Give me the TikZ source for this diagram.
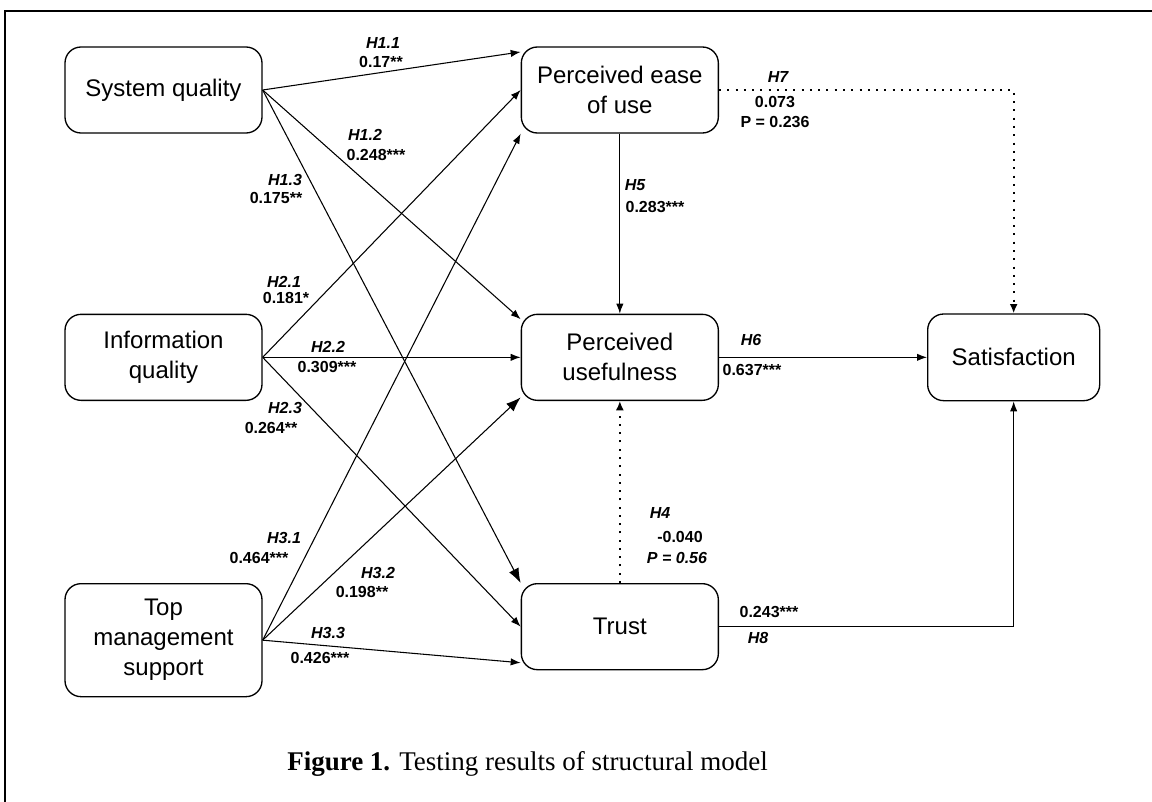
\documentclass[tikz,border=0pt]{standalone}
\usepackage{fontspec}
\setmainfont{Liberation Serif}
\setsansfont{Liberation Sans}
\usetikzlibrary{positioning, arrows.meta}

\begin{document}
\begin{tikzpicture}[x=0.75pt, y=-0.75pt, node distance = 135pt]
  \tikzstyle{construct}=[rounded corners=12pt, draw, line width=1pt, inner sep=0, align=center, minimum width=147.75pt, minimum height=64.5pt, font=\sffamily\fontsize{18}{22.5}\selectfont]
  \tikzstyle{hyp}=[inner sep=0, font=\sffamily\bfseries\itshape\fontsize{12}{14}\selectfont]
  \tikzstyle{coef}=[inner sep=0, font=\sffamily\bfseries\fontsize{12}{14}\selectfont]
  \tikzstyle{link}=[line width=0.8pt, -{Latex[length=7.5pt, width=5.5pt]}]
  \tikzstyle{biglink}=[line width=0.8pt, -{Latex[length=11pt, width=8pt]}]
  \tikzstyle{ns}=[link, line width=1.5pt, dash pattern=on 1.5pt off 4.7pt, -{Latex[length=7pt, width=6pt]}]

  \useasboundingbox (0,0) rectangle (1152,802);
  \draw [line width=1.5pt] (5,802) -- (5,11) -- (1152,11);

  \node [construct] (SQ) at (163.5,90) {System quality};
  \node [construct, below = of SQ] (IQ) {Information\\quality};
  \node [construct, below = 136.5pt of IQ, minimum height=84.75pt] (TMS) {Top\\management\\support};

  \node [construct, right = 193.5pt of SQ] (PEOU) {Perceived ease\\of use};
  \node [construct, below = of PEOU] (PU) {Perceived\\usefulness};
  \node [construct, below = 136.5pt of PU] (T) {Trust};

  \node [construct, right = 156pt of PU, minimum width=129pt, minimum height=65pt] (S) {Satisfaction};

  \draw [link] (SQ.east) -- (PEOU.159);
  \draw [link] (SQ.east) -- (PU.159);
  \draw [biglink] (SQ.east) -- (T.north west);

  \draw [link] (IQ.east) -- (PEOU.west);
  \draw [link] (IQ.east) -- (PU.west);
  \draw [link] (IQ.east) -- (T.west);

  \draw [link] (TMS.east) -- (PEOU.south west);
  \draw [biglink] (TMS.east) -- (PU.202);
  \draw [link] (TMS.east) -- (T.200);

  \draw [link] (PEOU) -- (PU);
  \draw [ns] (T) -- (PU);
  \draw [link] (PU) -- (S);
  \draw [ns] (PEOU.east) -| (S.north);
  \draw [link] (T.east) -| (S.south);

  \node [hyp] (h11) at (383,43) {H1.1};
  \node [coef] (c11) at (381,62) {0.17**};
  \node [hyp] (h12) at (365,135) {H1.2};
  \node [coef] (c12) at (376,155) {0.248***};
  \node [hyp] (h13) at (285,180) {H1.3};
  \node [coef] (c13) at (276,198) {0.175**};

  \node [hyp] (h21) at (284,282) {H2.1};
  \node [coef] (c21) at (286,298) {0.181*};
  \node [hyp] (h22) at (328,347) {H2.2};
  \node [coef] (c22) at (327,367) {0.309***};
  \node [hyp] (h23) at (285,408) {H2.3};
  \node [coef] (c23) at (271,428) {0.264**};

  \node [hyp] (h31) at (284,538) {H3.1};
  \node [coef] (c31) at (259,558) {0.464***};
  \node [hyp] (h32) at (378,573) {H3.2};
  \node [coef] (c32) at (362,592) {0.198**};
  \node [hyp] (h33) at (328,633) {H3.3};
  \node [coef] (c33) at (320,658) {0.426***};

  \node [hyp] (h5) at (635,185) {H5};
  \node [coef] (c5) at (655,207) {0.283***};

  \node [hyp] (h7) at (778,77) {H7};
  \node [coef] (c7) at (775,102) {0.073};
  \node [coef] (p7) at (775,122) {P = 0.236};

  \node [hyp] (h6) at (751,340) {H6};
  \node [coef] (c6) at (752,370) {0.637***};

  \node [hyp] (h4) at (660,513) {H4};
  \node [coef] (c4) at (680,537) {-0.040};
  \node [hyp] (p4) at (677,558) {P = 0.56};

  \node [coef] (c8) at (769,612) {0.243***};
  \node [hyp] (h8) at (758,638) {H8};

  \node [anchor=base west, inner sep=0, font=\fontsize{20.25}{24}\selectfont] (cap) at (287,770) {\textbf{Figure 1.} Testing results of structural model};
\end{tikzpicture}
\end{document}
